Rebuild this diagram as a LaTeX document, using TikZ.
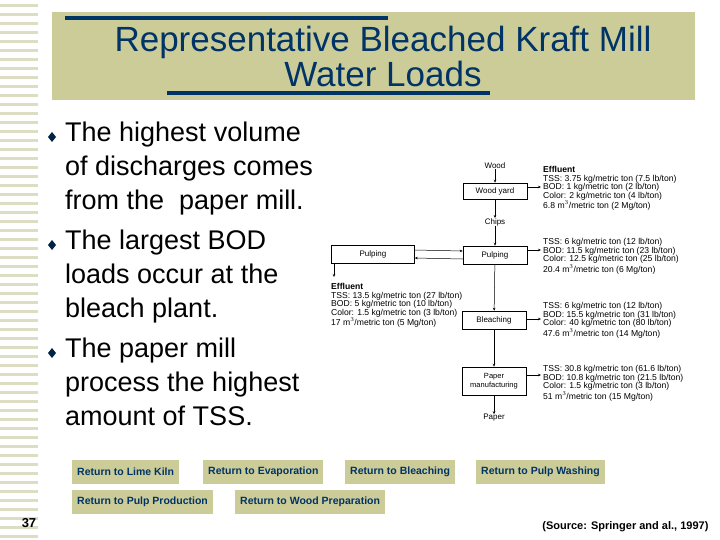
\documentclass[tikz,border=0pt]{standalone}
\usepackage{fontspec}
\setmainfont{Liberation Sans}
\usetikzlibrary{arrows.meta}
\definecolor{tan}{HTML}{CCCC99}
\definecolor{navy}{HTML}{003366}
\definecolor{stripe}{HTML}{DDDDC4}
\tikzset{
  pbox/.style={draw,line width=0.5pt,minimum width=64pt,font=\fontsize{8}{9}\selectfont,inner sep=1pt},
  lbl/.style={font=\fontsize{8}{9}\selectfont,inner sep=0pt},
  eff/.style={font=\fontsize{8.6}{8.6}\selectfont,align=left,anchor=north west,inner sep=0pt},
  arr/.style={-{Stealth[length=3pt,width=2.5pt]},line width=0.5pt},
  btn/.style={fill=tan,text=navy,font=\bfseries\fontsize{10.5}{11}\selectfont,minimum height=24pt,inner xsep=5pt,anchor=west},
  bul/.style={font=\fontsize{27}{34}\selectfont,align=left,anchor=north west,inner sep=0pt}
}
\begin{document}
\begin{tikzpicture}[x=1pt,y=-1pt]
\useasboundingbox (0,0) rectangle (720,540);
\fill[white] (0,0) rectangle (720,540);
\foreach \y in {4,13,...,540} \fill[stripe] (0,\y) rectangle (40,\y+3);
\fill[white] (38,0) rectangle (40,540);
% title
\node[fill=tan,minimum width=643pt,minimum height=88pt,anchor=north west,inner sep=0] (tb) at (52,12) {};
\draw[navy,line width=4pt] (65,18) -- (388,18);
\draw[navy,line width=4pt] (167,93) -- (490,93);
\node[text=navy,font=\fontsize{35}{35}\selectfont,align=center] (title) at (383,56) {Representative Bleached Kraft Mill\\Water Loads};
% bullets
\node[bul] (b1) at (65,122) {The highest volume\\of discharges comes\\from the\ \ paper mill.};
\node[bul] (b2) at (65,230) {The largest BOD\\loads occur at the\\bleach plant.};
\node[bul] (b3) at (65,338) {The paper mill\\process the highest\\amount of TSS.};
\foreach \y/\n in {137/d1,245/d2,353/d3}
  \fill[navy!70!black] (52,\y-5) -- (56,\y) -- (52,\y+5) -- (48,\y) -- cycle;
% diagram
\node[lbl] (wood) at (495,166) {Wood};
\node[pbox,minimum height=16pt] (wy) at (495,191) {Wood yard};
\node[lbl] (chips) at (495,222) {Chips};
\node[pbox,minimum height=18pt] (pu) at (495,255) {Pulping};
\node[pbox,minimum height=18pt,minimum width=83pt] (lp) at (373,254) {Pulping};
\node[pbox,minimum height=18pt] (bl) at (494,320) {Bleaching};
\node[pbox,minimum height=28pt,align=center,font=\fontsize{7.5}{8.5}\selectfont] (pm) at (494,381) {Paper\\manufacturing};
\node[lbl] (paper) at (494,418) {Paper};
\draw[arr] (wood) -- (wy);
\draw[arr] (wy) -- (chips);
\draw[arr] (chips) -- (pu);
\draw[arr] (pu) -- (bl);
\draw[arr] (bl) -- (pm);
\draw[arr] (pm) -- (paper);
\draw[arr] ([yshift=-4pt]pu.west) -- ([yshift=-4pt]lp.east);
\draw[arr] ([yshift=4pt]lp.east) -- ([yshift=4pt]pu.west);
\node[eff] (e1) at (543,166) {\textbf{Effluent}\\TSS: 3.75 kg/metric ton (7.5 lb/ton)\\BOD: 1 kg/metric ton (2 lb/ton)\\Color: 2 kg/metric ton (4 lb/ton)\\6.8 m$^3$/metric ton (2 Mg/ton)};
\node[eff] (e2) at (543,238) {TSS: 6 kg/metric ton (12 lb/ton)\\BOD: 11.5 kg/metric ton (23 lb/ton)\\Color: 12.5 kg/metric ton (25 lb/ton)\\20.4 m$^3$/metric ton (6 Mg/ton)};
\node[eff] (e3) at (543,302) {TSS: 6 kg/metric ton (12 lb/ton)\\BOD: 15.5 kg/metric ton (31 lb/ton)\\Color: 40 kg/metric ton (80 lb/ton)\\47.6 m$^3$/metric ton (14 Mg/ton)};
\node[eff] (e4) at (543,365) {TSS: 30.8 kg/metric ton (61.6 lb/ton)\\BOD: 10.8 kg/metric ton (21.5 lb/ton)\\Color: 1.5 kg/metric ton (3 lb/ton)\\51 m$^3$/metric ton (15 Mg/ton)};
\node[eff] (e5) at (331,283) {\textbf{Effluent}\\TSS: 13.5 kg/metric ton (27 lb/ton)\\BOD: 5 kg/metric ton (10 lb/ton)\\Color: 1.5 kg/metric ton (3 lb/ton)\\17 m$^3$/metric ton (5 Mg/ton)};
\coordinate (t1) at (541,187);
\coordinate (t2) at (541,250);
\coordinate (t3) at (541,319);
\coordinate (t4) at (541,375);
\draw[arr] (wy.east |- t1) -- (t1);
\draw[arr] (pu.east |- t2) -- (t2);
\draw[arr] (bl.east |- t3) -- (t3);
\draw[arr] (pm.east |- t4) -- (t4);
\coordinate (lpo) at (334,263);
\coordinate (lpe) at (334,277);
\draw[arr] (lpo) -- (lpe);
% buttons
\node[btn] (r1) at (72,472) {Return to Lime Kiln};
\node[btn] (r2) at (203,472) {Return to Evaporation};
\node[btn] (r3) at (345,472) {Return to Bleaching};
\node[btn] (r4) at (476,472) {Return to Pulp Washing};
\node[btn] (r5) at (72,502) {Return to Pulp Production};
\node[btn] (r6) at (235,502) {Return to Wood Preparation};
\node[font=\bfseries\fontsize{13}{14}\selectfont] (num) at (29,523) {37};
\node[font=\bfseries\fontsize{11}{12}\selectfont,anchor=east] (src) at (712,527) {(Source: Springer and al., 1997)};
\end{tikzpicture}
\end{document}
